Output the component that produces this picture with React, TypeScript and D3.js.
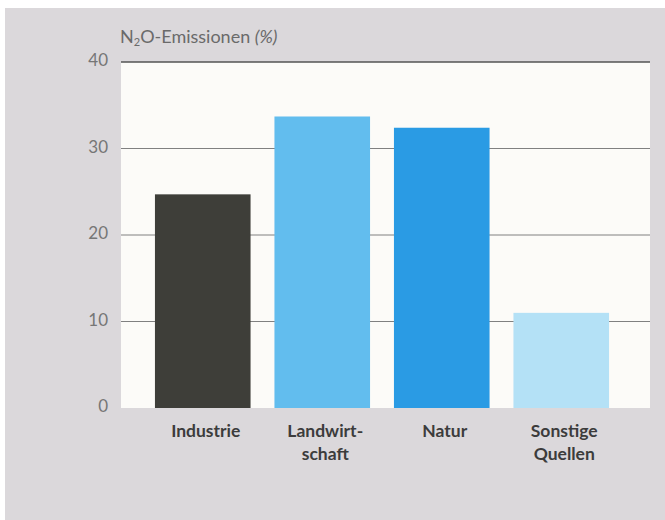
import React from "react";
import * as d3 from "d3";

const categories: string[][] = [["Industrie"], ["Landwirt-", "schaft"], ["Natur"], ["Sonstige", "Quellen"]];
const keys = ["Industrie", "Landwirtschaft", "Natur", "Sonstige Quellen"];
const values = [24.7, 33.7, 32.4, 11.0];
const colors = ["#3e3e39", "#62bdee", "#2a9be4", "#b4e1f6"];
const yTicks = [0, 10, 20, 30, 40];

const W = 665, H = 520;
const plotLeft = 121, plotRight = 650, plotTop = 62, plotBottom = 408;

export default function App() {
  const x = d3.scaleBand<string>().domain(keys).range([143, 621]).paddingInner(0.2).paddingOuter(0.1);
  const y = d3.scaleLinear().domain([0, 40]).range([plotBottom, plotTop]);
  const font = "Lato, 'Open Sans', sans-serif";
  return (
    <>
      <style>{"body{margin:0}"}</style>
      <svg width={W} height={H} style={{ display: "block" }} fontFamily={font}>
        <rect x={0} y={0} width={W} height={H} fill="#ffffff" />
        <rect x={5} y={8} width={W - 5} height={H - 8} fill="#dbd8db" />
        <rect x={plotLeft} y={plotTop} width={plotRight - plotLeft} height={plotBottom - plotTop} fill="#fcfbf8" />
        {yTicks.filter(t => t > 0 && t < 40).map(t => (
          <line key={t} x1={plotLeft} x2={plotRight} y1={y(t)} y2={y(t)} stroke="#808080" strokeWidth={1} />
        ))}
        <line x1={plotLeft} x2={plotRight} y1={y(40)} y2={y(40)} stroke="#555" strokeWidth={1.3} />
        {keys.map((k, i) => (
          <rect key={k} x={x(k)} y={y(values[i])} width={x.bandwidth()} height={y(0) - y(values[i])} fill={colors[i]} />
        ))}
        {yTicks.map(t => (
          <text key={t} x={108} y={y(t) + 4} textAnchor="end" fontSize={17} fill="#767676">{t}</text>
        ))}
        <text x={120} y={43} fontSize={18} fill="#6a6a6a">
          N<tspan fontSize={11} dy={3}>2</tspan><tspan dy={-3}>O-Emissionen </tspan><tspan fontStyle="italic">(%)</tspan>
        </text>
        {keys.map((k, i) => (
          <text key={k} x={(x(k) as number) + x.bandwidth() / 2 + 3} y={437} textAnchor="middle" fontSize={17.5} fontWeight="bold" fill="#3c3c3c">
            {categories[i].map((line, j) => (
              <tspan key={j} x={(x(k) as number) + x.bandwidth() / 2 + 3} dy={j === 0 ? 0 : 23}>{line}</tspan>
            ))}
          </text>
        ))}
      </svg>
    </>
  );
}
